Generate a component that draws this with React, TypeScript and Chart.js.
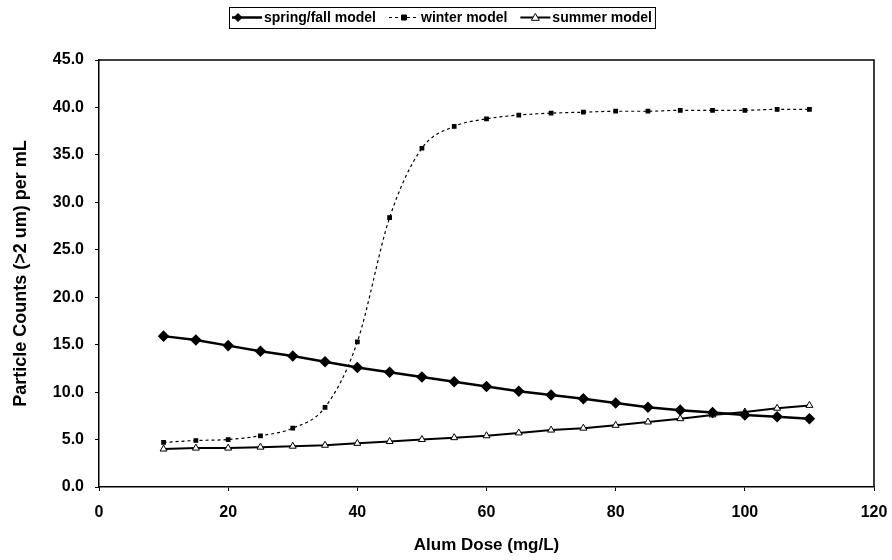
import React, { useEffect, useRef } from "react";
import { Chart, registerables } from "chart.js";

Chart.register(...registerables);

const doses = [10, 15, 20, 25, 30, 35, 40, 45, 50, 55, 60, 65, 70, 75, 80, 85, 90, 95, 100, 105, 110];
const springFall = [15.9, 15.5, 14.9, 14.3, 13.8, 13.2, 12.6, 12.1, 11.6, 11.1, 10.6, 10.1, 9.7, 9.3, 8.85, 8.4, 8.1, 7.85, 7.6, 7.4, 7.2];
const winter = [4.7, 4.9, 5.0, 5.4, 6.2, 8.4, 15.3, 28.4, 35.7, 38.0, 38.8, 39.2, 39.4, 39.5, 39.6, 39.6, 39.7, 39.7, 39.7, 39.8, 39.8];
const summer = [4.0, 4.1, 4.1, 4.2, 4.3, 4.4, 4.6, 4.8, 5.0, 5.2, 5.4, 5.7, 6.0, 6.2, 6.5, 6.85, 7.2, 7.6, 7.9, 8.3, 8.6];
const seriesNames = ["spring/fall model", "winter model", "summer model"];
const xTitle = "Alum Dose (mg/L)";
const yTitle = "Particle Counts (>2 um) per mL";

const FONT = "'Liberation Sans', Arial, sans-serif";

const toPoints = (ys: number[]) => doses.map((x, i) => ({ x, y: ys[i] }));

const frameAndLegend = {
  id: "frameAndLegend",
  afterDraw(chart: any) {
    const { ctx, chartArea } = chart;
    ctx.save();
    ctx.strokeStyle = "#000";
    ctx.lineWidth = 1.5;
    ctx.beginPath();
    ctx.moveTo(chartArea.left, chartArea.top);
    ctx.lineTo(chartArea.right, chartArea.top);
    ctx.lineTo(chartArea.right, chartArea.bottom);
    ctx.stroke();

    // legend
    ctx.font = `bold 14px ${FONT}`;
    const lineW = 30, gapLT = 2, gapEntries = 13, padX = 3;
    const widths = seriesNames.map((n) => ctx.measureText(n).width);
    const total = widths.reduce((a, w) => a + lineW + gapLT + w, 0) + gapEntries * 2 + padX * 2;
    const center = 442;
    const boxL = Math.round(center - total / 2), boxT = 7, boxB = 28;
    ctx.lineWidth = 1;
    ctx.setLineDash([]);
    ctx.strokeRect(boxL + 0.5, boxT + 0.5, total, boxB - boxT);
    const cy = (boxT + boxB) / 2;
    ctx.textBaseline = "middle";
    let x = boxL + padX;
    chart.data.datasets.forEach((ds: any, i: number) => {
      ctx.save();
      ctx.strokeStyle = "#000";
      ctx.lineWidth = ds.borderWidth;
      ctx.setLineDash(ds.borderDash || []);
      ctx.beginPath();
      ctx.moveTo(x, cy);
      ctx.lineTo(x + lineW, cy);
      ctx.stroke();
      ctx.setLineDash([]);
      ctx.lineWidth = 1;
      const mx = x + lineW / 2 + (i === 0 ? -9 : 0);
      ctx.fillStyle = ds.pointBackgroundColor;
      ctx.strokeStyle = "#000";
      const r = ds.pointRadius;
      ctx.beginPath();
      if (ds.pointStyle === "rectRot") {
        ctx.moveTo(mx, cy - r); ctx.lineTo(mx + r, cy); ctx.lineTo(mx, cy + r); ctx.lineTo(mx - r, cy); ctx.closePath();
      } else if (ds.pointStyle === "triangle") {
        ctx.moveTo(mx, cy - r); ctx.lineTo(mx + r, cy + r * 0.7); ctx.lineTo(mx - r, cy + r * 0.7); ctx.closePath();
      } else {
        ctx.rect(mx - r, cy - r, 2 * r, 2 * r);
      }
      ctx.fill();
      ctx.stroke();
      ctx.restore();
      ctx.fillStyle = "#000";
      ctx.fillText(seriesNames[i], x + lineW + gapLT, cy + 1);
      x += lineW + gapLT + widths[i] + gapEntries;
    });
    ctx.restore();
  },
};

export default function App() {
  const ref = useRef<HTMLCanvasElement | null>(null);
  useEffect(() => {
    document.body.style.margin = "0";
    const canvas = ref.current!;
    const chart = new Chart(canvas, {
      type: "line",
      data: {
        datasets: [
          {
            label: seriesNames[0],
            data: toPoints(springFall),
            borderColor: "#000",
            borderWidth: 2.5,
            pointStyle: "rectRot",
            pointRadius: 4,
            pointBackgroundColor: "#000",
            pointBorderColor: "#000",
            tension: 0,
          },
          {
            label: seriesNames[1],
            data: toPoints(winter),
            borderColor: "#000",
            borderWidth: 1.2,
            borderDash: [3, 3],
            pointStyle: "rect",
            pointRadius: 2.5,
            pointBackgroundColor: "#000",
            pointBorderColor: "#000",
            cubicInterpolationMode: "monotone",
          },
          {
            label: seriesNames[2],
            data: toPoints(summer),
            borderColor: "#000",
            borderWidth: 2,
            pointStyle: "triangle",
            pointRadius: 4,
            pointBackgroundColor: "#fff",
            pointBorderColor: "#000",
            pointBorderWidth: 1,
            tension: 0,
          },
        ] as any,
      },
      options: {
        animation: false,
        responsive: false,
        maintainAspectRatio: false,
        layout: { padding: { left: 0, right: 18, top: 60, bottom: 0 } },
        plugins: { legend: { display: false }, tooltip: { enabled: false } },
        scales: {
          x: {
            type: "linear",
            min: 0,
            max: 120,
            ticks: { stepSize: 20, color: "#000", font: { family: FONT, size: 16, weight: "bold" }, padding: 12 },
            grid: { drawOnChartArea: false, drawTicks: true, tickLength: 4, color: "#000" },
            border: { color: "#000", width: 1.5 },
            title: { display: true, text: xTitle, color: "#000", font: { family: FONT, size: 17, weight: "bold" }, padding: { top: 6 } },
            afterFit: (s: any) => { s.height = 73; s.paddingRight = 0; s.paddingLeft = 0; },
          },
          y: {
            min: 0,
            max: 45,
            ticks: {
              stepSize: 5,
              color: "#000",
              font: { family: FONT, size: 16, weight: "bold" },
              padding: 11,
              callback: (v: any) => Number(v).toFixed(1),
            },
            grid: { drawOnChartArea: false, drawTicks: true, tickLength: 4, color: "#000" },
            border: { color: "#000", width: 1.5 },
            title: { display: true, text: yTitle, color: "#000", font: { family: FONT, size: 18, weight: "bold" }, padding: { top: 10, bottom: 4 } },
            afterFit: (s: any) => { s.width = 99; s.paddingTop = 0; s.paddingBottom = 0; },
          },
        },
      } as any,
      plugins: [frameAndLegend],
    });
    return () => chart.destroy();
  }, []);
  return (
    <div style={{ width: 892, height: 560, background: "#fff" }}>
      <canvas ref={ref} width={892} height={560} style={{ display: "block" }} />
    </div>
  );
}
